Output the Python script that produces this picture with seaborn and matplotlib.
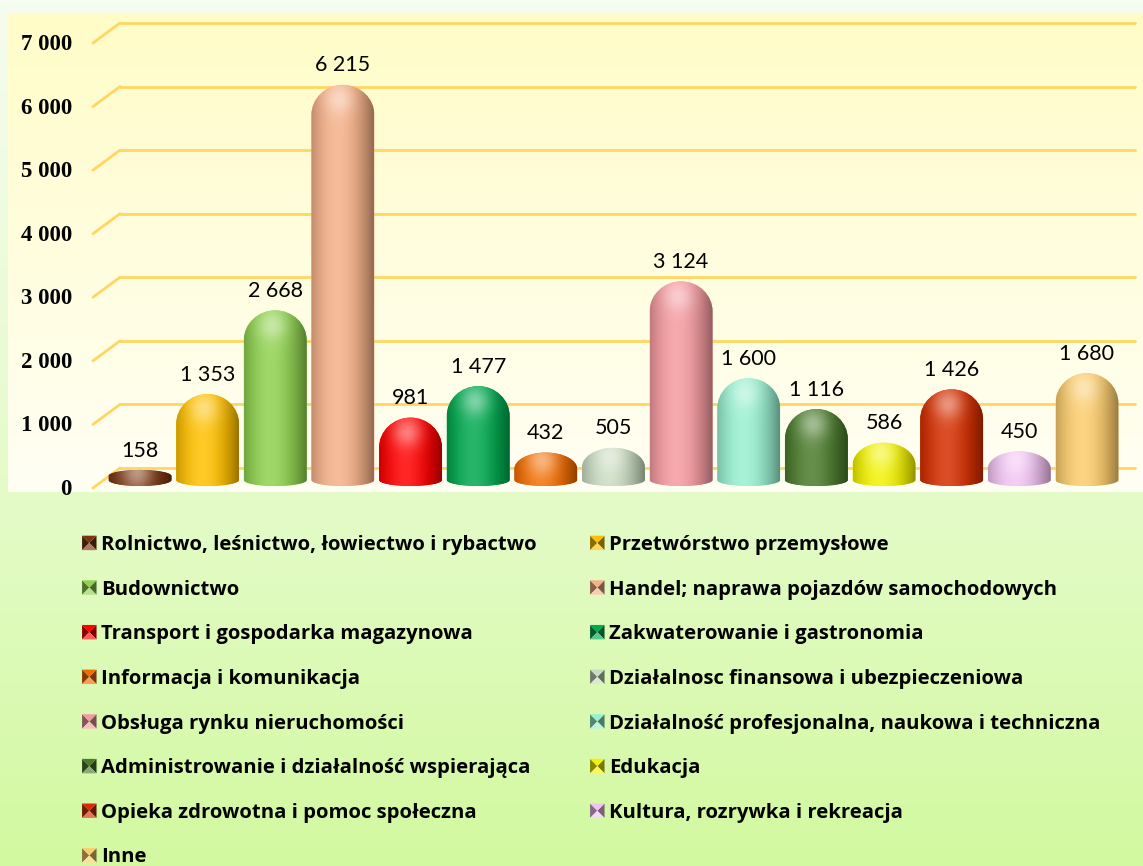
import numpy as np
import matplotlib
matplotlib.use("Agg")
import matplotlib.pyplot as plt
import matplotlib.transforms as mtrans
from matplotlib.path import Path
from matplotlib.patches import PathPatch, Polygon, Patch
from matplotlib.legend_handler import HandlerBase
from matplotlib.colors import to_rgb
import seaborn as sns

# ---------------- data ----------------
categories = [
    "Rolnictwo, leśnictwo, łowiectwo i rybactwo",
    "Przetwórstwo przemysłowe",
    "Budownictwo",
    "Handel; naprawa pojazdów samochodowych",
    "Transport i gospodarka magazynowa",
    "Zakwaterowanie i gastronomia",
    "Informacja i komunikacja",
    "Działalnosc finansowa i ubezpieczeniowa",
    "Obsługa rynku nieruchomości",
    "Działalność profesjonalna, naukowa i techniczna",
    "Administrowanie i działalność wspierająca",
    "Edukacja",
    "Opieka zdrowotna i pomoc społeczna",
    "Kultura, rozrywka i rekreacja",
    "Inne",
]
values = [158, 1353, 2668, 6215, 981, 1477, 432, 505, 3124, 1600, 1116, 586, 1426, 450, 1680]
colors = ["#7a3410", "#ffc000", "#8fd14f", "#f5b088", "#ff0000", "#00a84f",
          "#f26c00", "#c9dcc0", "#f49a9f", "#98f0d0", "#4b7b2c", "#f2f200",
          "#d42e00", "#f2c2f2", "#fbcc6c"]
yticks = [0, 1000, 2000, 3000, 4000, 5000, 6000, 7000]
ytick_labels = ["0", "1 000", "2 000", "3 000", "4 000", "5 000", "6 000", "7 000"]
value_labels = ["158", "1 353", "2 668", "6 215", "981", "1 477", "432", "505",
                "3 124", "1 600", "1 116", "586", "1 426", "450", "1 680"]

W, H, DPI = 1143, 866, 100
fig = plt.figure(figsize=(W / DPI, H / DPI), dpi=DPI)

# figure background gradient
bg = fig.add_axes([0, 0, 1, 1], zorder=-10)
bg.axis("off")
top_c = np.array(to_rgb("#f5fdf0"))
mid_c = np.array(to_rgb("#e4fbc8"))
bot_c = np.array(to_rgb("#d2f9a0"))
tt = np.linspace(0, 1, 256)[:, None]
grad = np.where(tt < 0.58, top_c + (mid_c - top_c) * (tt / 0.58),
                mid_c + (bot_c - mid_c) * ((tt - 0.58) / 0.42))
bg.imshow(grad[:, None, :].repeat(2, axis=1), aspect="auto", extent=[0, 1, 0, 1])

# main axes (plot area)
ax_l, ax_t, ax_r, ax_b = 8, 13, 1143, 492
ax = fig.add_axes([ax_l / W, 1 - ax_b / H, (ax_r - ax_l) / W, (ax_b - ax_t) / H])
ax.set_facecolor("none")

sns.barplot(x=categories, y=values, hue=categories, palette=colors, width=0.93,
            legend=False, ax=ax, saturation=1)

zero_px = 480
k = (zero_px - 42 + 7) / 7000.0  # px per unit
ymin = -(ax_b - zero_px) / k
ymax = (zero_px - ax_t) / k
first_c, step = 140, 67.64
xmin = (ax_l - first_c) / step
xmax = (ax_r - first_c) / step
ax.set_xlim(xmin, xmax)
ax.set_ylim(ymin, ymax)

# plot-area gradient
pa_top = np.array(to_rgb("#fffcc8"))
pa_bot = np.array(to_rgb("#fffff4"))
pg = pa_top + (pa_bot - pa_top) * tt
ax.imshow(pg[:, None, :].repeat(2, axis=1), aspect="auto", extent=[0, 1, 0, 1],
          transform=ax.transAxes, zorder=0)
ax.set_xlim(xmin, xmax)
ax.set_ylim(ymin, ymax)

for s in ax.spines.values():
    s.set_visible(False)
ax.set_xticks([])
ax.set_xlabel("")
ax.set_ylabel("")
ax.set_yticks(yticks)
ax.set_yticklabels(ytick_labels, fontfamily="Liberation Serif", fontweight="bold",
                   fontsize=16.5)
ax.tick_params(axis="y", length=0, pad=-46)
lab_off = mtrans.ScaledTranslation(0, -7 / DPI, fig.dpi_scale_trans)
for tk in ax.yaxis.get_major_ticks():
    tk.label1.set_transform(tk.label1.get_transform() + lab_off)

# 3D-like gridlines
blend = mtrans.blended_transform_factory(ax.transAxes, ax.transData)
up = mtrans.ScaledTranslation(0, 12 / DPI, fig.dpi_scale_trans)
dn = mtrans.ScaledTranslation(0, -8 / DPI, fig.dpi_scale_trans)
xa = (93 - ax_l) / (ax_r - ax_l)
xb = (120 - ax_l) / (ax_r - ax_l)
xc = (1135 - ax_l) / (ax_r - ax_l)
for v in yticks:
    ax.plot([xb, xc], [v, v], transform=blend + up, color="#ffd663", lw=2.0,
            solid_capstyle="round", zorder=1, clip_on=False)
    p0 = (blend + dn).transform((xa, v))
    p1 = (blend + up).transform((xb, v))
    ax.plot([p0[0], p1[0]], [p0[1], p1[1]], transform=None, color="#ffd663",
            lw=2.0, solid_capstyle="round", zorder=1)

# pixel scales
o = ax.transData.transform((0, 0))
px_x = ax.transData.transform((1, 0))[0] - o[0]
px_y = (ax.transData.transform((0, 1000))[1] - o[1]) / 1000.0

kap = 0.5523
cap_px = 30.0
sag_px = 6.0
bars = [p for p in ax.patches]
for i, p in enumerate(bars):
    x0, w, h = p.get_x(), p.get_width(), p.get_height()
    p.set_visible(False)
    x1 = x0 + w
    xm = x0 + w / 2
    rx = w / 2
    cap = min(cap_px / px_y, 0.6 * h)
    ys = h - cap
    sag = sag_px / px_y
    verts = [(x0, 0), (x0, ys),
             (x0, ys + kap * cap), (xm - kap * rx, h), (xm, h),
             (xm + kap * rx, h), (x1, ys + kap * cap), (x1, ys),
             (x1, 0),
             (x1, -kap * sag), (xm + kap * rx, -sag), (xm, -sag),
             (xm - kap * rx, -sag), (x0, -kap * sag), (x0, 0),
             (x0, 0)]
    codes = [Path.MOVETO, Path.LINETO,
             Path.CURVE4, Path.CURVE4, Path.CURVE4,
             Path.CURVE4, Path.CURVE4, Path.CURVE4,
             Path.LINETO,
             Path.CURVE4, Path.CURVE4, Path.CURVE4,
             Path.CURVE4, Path.CURVE4, Path.CURVE4,
             Path.CLOSEPOLY]
    base = np.array(to_rgb(colors[i]))
    patch = PathPatch(Path(verts, codes), facecolor=base, edgecolor="none", zorder=3)
    ax.add_patch(patch)
    nx, ny = 80, max(int((h + sag) * px_y), 4)
    tx = np.linspace(0, 1, nx)[None, :]
    yy = np.linspace(h, -sag, ny)[:, None]
    sh = np.clip(1 - ((tx - 0.42) / 0.58) ** 2, 0, 1)
    img = base[None, None, :] * (0.6 + 0.4 * sh[..., None])
    img = img + (1 - img) * (0.15 * sh ** 4)[..., None]
    dx = (tx - 0.45) * w * px_x
    dy = (yy - (h - cap * 0.5)) * px_y
    spot = np.exp(-(dx ** 2 + dy ** 2) / (2 * 10.0 ** 2))
    img = img + (1 - img) * (0.4 * spot)[..., None]
    img = np.broadcast_to(img, (ny, nx, 3)).copy()
    im = ax.imshow(np.clip(img, 0, 1), extent=[x0, x1, -sag, h], aspect="auto",
                   zorder=3, interpolation="bilinear")
    im.set_clip_path(patch)
    ax.annotate(value_labels[i], (xm, h), xytext=(0, 14), textcoords="offset points",
                ha="center", va="center", fontsize=15.5, fontfamily="Lato",
                color="#000000", zorder=5)

ax.set_xlim(xmin, xmax)
ax.set_ylim(ymin, ymax)


class BowTie(HandlerBase):
    def create_artists(self, legend, orig, xd, yd, width, height, fontsize, trans):
        c = np.array(to_rgb(orig.get_facecolor()))
        s = min(width, height)
        x0 = -xd + (width - s) / 2
        y0 = -yd + (height - s) / 2
        cx, cy = x0 + s / 2, y0 + s / 2
        dark = c * 0.55
        light = c + (1 - c) * 0.35
        tris = [
            ([(x0, y0), (x0, y0 + s), (cx, cy)], dark),
            ([(x0 + s, y0), (x0 + s, y0 + s), (cx, cy)], dark * 0.9),
            ([(x0, y0 + s), (x0 + s, y0 + s), (cx, cy)], c),
            ([(x0, y0), (x0 + s, y0), (cx, cy)], light),
        ]
        return [Polygon(pts, closed=True, facecolor=np.clip(col, 0, 1),
                        edgecolor="none", transform=trans) for pts, col in tris]


handles = [Patch(facecolor=c) for c in colors]
left_idx = list(range(0, len(categories), 2))
right_idx = list(range(1, len(categories), 2))
leg_kw = dict(frameon=False, handlelength=0.72, handleheight=0.72, handletextpad=0.2,
              borderpad=0, borderaxespad=0, labelspacing=1.215,
              prop={"family": "Open Sans", "weight": "bold", "size": 14.6},
              handler_map={Patch: BowTie()}, loc="upper left")
leg1 = fig.legend([handles[i] for i in left_idx], [categories[i] for i in left_idx],
                  bbox_to_anchor=(82 / W, 1 - 535 / H), **leg_kw)
leg2 = fig.legend([handles[i] for i in right_idx], [categories[i] for i in right_idx],
                  bbox_to_anchor=(590 / W, 1 - 535 / H), **leg_kw)

fig.savefig("out.png", dpi=DPI)
